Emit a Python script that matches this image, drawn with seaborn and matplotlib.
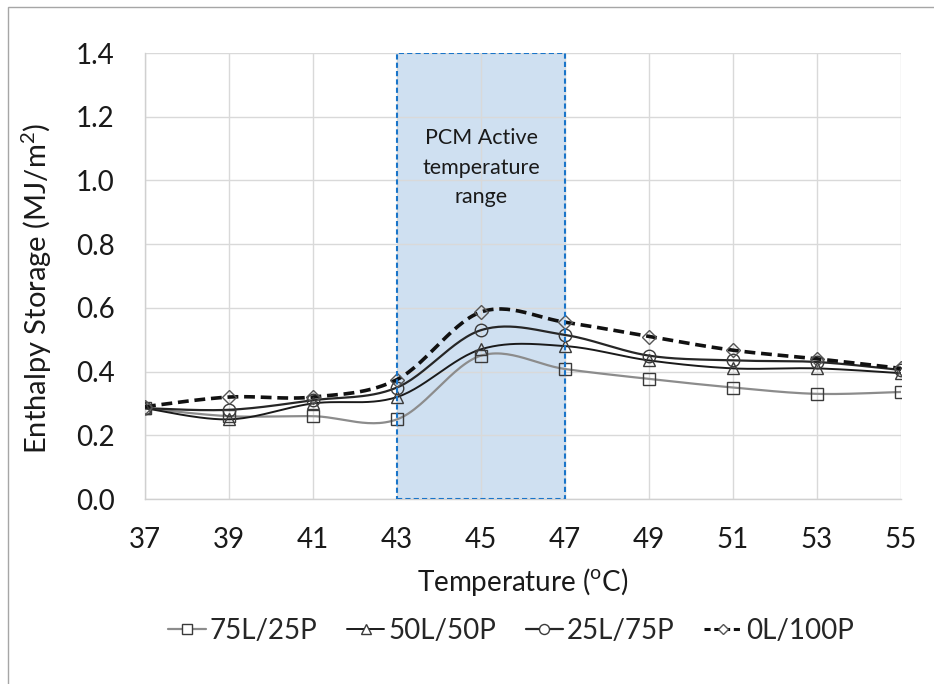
import numpy as np
import pandas as pd
import matplotlib
matplotlib.use("Agg")
import matplotlib.pyplot as plt
import seaborn as sns
from matplotlib.patches import Rectangle
from matplotlib.lines import Line2D

temps = [37, 39, 41, 43, 45, 47, 49, 51, 53, 55]
s75 = [0.285, 0.26, 0.26, 0.25, 0.45, 0.408, 0.377, 0.35, 0.33, 0.336]
s50 = [0.285, 0.25, 0.30, 0.32, 0.47, 0.48, 0.435, 0.41, 0.41, 0.395]
s25 = [0.285, 0.28, 0.31, 0.35, 0.53, 0.515, 0.45, 0.435, 0.43, 0.405]
s0 = [0.29, 0.32, 0.32, 0.375, 0.587, 0.555, 0.51, 0.467, 0.44, 0.41]
labels = ["75L/25P", "50L/50P", "25L/75P", "0L/100P"]
yticks = [0.0, 0.2, 0.4, 0.6, 0.8, 1.0, 1.2, 1.4]

sns.set_theme(style="white")
plt.rcParams['font.family'] = ['Lato', 'DejaVu Sans']
plt.rcParams['mathtext.fontset'] = 'custom'
plt.rcParams['mathtext.rm'] = 'Lato'


def smooth(x, y, n=30):
    # Excel-like smoothed line: cubic Bezier with Catmull-Rom tangents
    x = np.asarray(x, float); y = np.asarray(y, float)
    P = np.column_stack([x, y])
    out = []
    for i in range(len(P) - 1):
        p0 = P[i - 1] if i > 0 else P[i]
        p1 = P[i]; p2 = P[i + 1]
        p3 = P[i + 2] if i + 2 < len(P) else P[i + 1]
        c1 = p1 + (p2 - p0) / 6.0
        c2 = p2 - (p3 - p1) / 6.0
        t = np.linspace(0, 1, n)[:, None]
        seg = ((1 - t) ** 3) * p1 + 3 * ((1 - t) ** 2) * t * c1 + 3 * (1 - t) * t ** 2 * c2 + t ** 3 * p2
        out.append(seg if i == 0 else seg[1:])
    S = np.vstack(out)
    return S[:, 0], S[:, 1]


fig = plt.figure(figsize=(9.34, 6.84), dpi=100)
fig.patches.append(Rectangle((8 / 934, -0.1), 1.2, 1 - 7 / 684 + 0.1, transform=fig.transFigure,
                             fill=False, edgecolor='#a6a6a6', linewidth=1.0))
ax = fig.add_axes([145 / 934, 1 - 499 / 684, 756 / 934, 446 / 684])

ax.add_patch(Rectangle((43, 0), 4, 1.4, facecolor='#cfe0f1', edgecolor='none', zorder=0.5))
ax.add_patch(Rectangle((43, 0), 4, 1.4, facecolor='none', edgecolor='#1a75c9',
                       linestyle=(0, (2.5, 1.5)), linewidth=1.5, zorder=5))
ax.text(45, 1.04, "PCM Active\ntemperature\nrange", ha='center', va='center', fontsize=15.5,
        color='#1a1a1a', linespacing=1.6, zorder=6)

series = [s75, s50, s25, s0]
styles = [
    dict(color='#8c8c8c', lw=1.6, ls='-', marker='s', ms=9, mec='#3a3a3a'),
    dict(color='#1a1a1a', lw=1.4, ls='-', marker='^', ms=9, mec='#3a3a3a'),
    dict(color='#262626', lw=1.6, ls='-', marker='o', ms=9, mec='#3a3a3a'),
    dict(color='#111111', lw=2.6, ls=(0, (3, 1.6)), marker='D', ms=7, mec='#555555'),
]
handles = []
for lab, vals, st in zip(labels, series, styles):
    xs, ys = smooth(temps, vals)
    df = pd.DataFrame({'x': xs, 'y': ys})
    sns.lineplot(data=df, x='x', y='y', ax=ax, sort=False, color=st['color'], lw=st['lw'],
                 linestyle=st['ls'], zorder=3, legend=False)
    ax.plot(temps, vals, linestyle='none', marker=st['marker'], ms=st['ms'], mfc='none',
            mec=st['mec'], mew=1.0, zorder=4)
    handles.append(Line2D([], [], color=st['color'], lw=st['lw'] if st['lw'] < 2 else 2.2,
                          linestyle=st['ls'] if st['lw'] < 2 else (0, (2, 1.2)),
                          marker=st['marker'], ms=st['ms'] * 0.8,
                          mfc='white', mec=st['mec'], mew=1.0, label=lab))

ax.set_xlim(37, 55)
ax.set_ylim(0, 1.4)
ax.set_xticks(temps)
ax.set_xticklabels([str(t) for t in temps])
ax.set_yticks(yticks)
ax.set_yticklabels([f"{v:.1f}" for v in yticks])
ax.grid(True, color='#d9d9d9', linewidth=1.0, zorder=1)
ax.set_axisbelow(True)
for s in ['top', 'right']:
    ax.spines[s].set_visible(False)
for s in ['left', 'bottom']:
    ax.spines[s].set_color('#d0d0d0')
    ax.spines[s].set_linewidth(1.0)
ax.tick_params(axis='both', labelsize=20, colors='#1a1a1a', length=0)
ax.tick_params(axis='x', pad=20)
ax.tick_params(axis='y', pad=22)
ax.set_xlabel("Temperature ($^{\\mathrm{o}}$C)", fontsize=20, color='#1a1a1a')
ax.set_ylabel("Enthalpy Storage (MJ/m$^{\\mathrm{2}}$)", fontsize=21, color='#1a1a1a')
ax.xaxis.set_label_coords(0.5, -(566 - 499) / 446)
ax.yaxis.set_label_coords((54 - 145) / 756, (499 - 288) / 446)

fig.legend(handles=handles, loc='center', bbox_to_anchor=(511 / 934, 1 - 631 / 684), ncol=4,
           frameon=False, fontsize=20, handlelength=1.35, handletextpad=0.15, columnspacing=1.05)

fig.savefig("out.png", dpi=100)
